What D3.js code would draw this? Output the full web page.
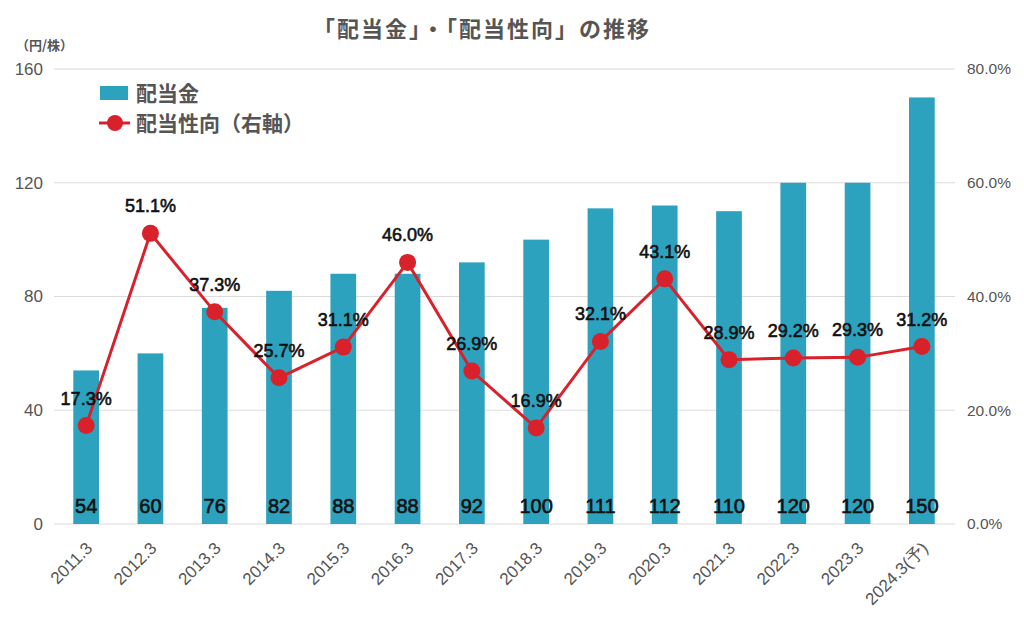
<!DOCTYPE html>
<html><head><meta charset="utf-8">
<script src="https://cdn.jsdelivr.net/npm/d3@7"></script>
<style>
body{margin:0;background:#fff;}
svg{display:block;}
</style></head>
<body>
<svg id="chart" width="1024" height="630"></svg>
<script>
const categories = ["2011.3","2012.3","2013.3","2014.3","2015.3","2016.3","2017.3","2018.3","2019.3","2020.3","2021.3","2022.3","2023.3","2024.3(予)"];
const dividends = [54,60,76,82,88,88,92,100,111,112,110,120,120,150];
const payoutRatio = [17.3,51.1,37.3,25.7,31.1,46.0,26.9,16.9,32.1,43.1,28.9,29.2,29.3,31.2];
const leftTicks = [0,40,80,120,160];
const rightTicks = [0,20,40,60,80];

const svg = d3.select("#chart");
const jp = "'Noto Sans CJK JP','Noto Sans',sans-serif";
const num = "'Liberation Sans',Arial,sans-serif";
const gray = "#555";
const barColor = "#2ca2bf";
const lineColor = "#d9212b";

const x = d3.scaleBand().domain(categories).range([54,954]).paddingInner(0.6).paddingOuter(0.3);
const yL = d3.scaleLinear().domain([0,160]).range([524,69]);
const yR = d3.scaleLinear().domain([0,80]).range([524,69]);

// gridlines
svg.append("g").selectAll("line").data(leftTicks).join("line")
  .attr("x1",54).attr("x2",955)
  .attr("y1",d=>yL(d)).attr("y2",d=>yL(d))
  .attr("stroke","#dcdcdc").attr("stroke-width",1.2);

// left axis
const gl = svg.append("g").attr("transform","translate(54,0)")
  .call(d3.axisLeft(yL).tickValues(leftTicks).tickSize(0).tickPadding(11));
gl.select(".domain").remove();
gl.selectAll("text").attr("font-family",num).attr("font-size",17).attr("fill",gray);

// right axis
const gr = svg.append("g").attr("transform","translate(955,0)")
  .call(d3.axisRight(yR).tickValues(rightTicks).tickSize(0).tickPadding(12).tickFormat(d=>d.toFixed(1)+"%"));
gr.select(".domain").remove();
gr.selectAll("text").attr("font-family",num).attr("font-size",15.5).attr("fill",gray);

// x axis
const gx = svg.append("g").attr("transform","translate(0,524)")
  .call(d3.axisBottom(x).tickSize(0).tickPadding(0));
gx.select(".domain").remove();
gx.selectAll("text")
  .attr("font-family",num).attr("font-size",17).attr("fill",gray)
  .attr("text-anchor","end")
  .attr("transform","translate(3,21) rotate(-45)")
  .attr("dy","0.35em");

// bars
svg.append("g").selectAll("rect").data(dividends).join("rect")
  .attr("x",(d,i)=>x(categories[i]))
  .attr("width",x.bandwidth())
  .attr("y",d=>yL(d))
  .attr("height",d=>yL(0)-yL(d))
  .attr("fill",barColor);

// bar value labels
svg.append("g").selectAll("text").data(dividends).join("text")
  .attr("x",(d,i)=>x(categories[i])+x.bandwidth()/2)
  .attr("y",513)
  .attr("text-anchor","middle")
  .attr("font-family",num).attr("font-size",20)
  .attr("fill","#111").attr("stroke","#111").attr("stroke-width",0.6)
  .text(d=>d);

// line
const line = d3.line().x((d,i)=>x(categories[i])+x.bandwidth()/2).y(d=>yR(d));
svg.append("path").datum(payoutRatio).attr("d",line)
  .attr("fill","none").attr("stroke",lineColor).attr("stroke-width",3);
svg.append("g").selectAll("circle").data(payoutRatio).join("circle")
  .attr("cx",(d,i)=>x(categories[i])+x.bandwidth()/2)
  .attr("cy",d=>yR(d))
  .attr("r",8.5)
  .attr("fill",lineColor);

// line labels
svg.append("g").selectAll("text").data(payoutRatio).join("text")
  .attr("x",(d,i)=>x(categories[i])+x.bandwidth()/2)
  .attr("y",d=>yR(d)-21)
  .attr("text-anchor","middle")
  .attr("font-family",num).attr("font-size",18)
  .attr("fill","#111").attr("stroke","#111").attr("stroke-width",0.6)
  .text(d=>d.toFixed(1)+"%");

// title
svg.append("text").attr("x",482).attr("y",37).attr("text-anchor","middle")
  .attr("font-family",jp).attr("font-size",22).attr("font-weight","bold").attr("fill",gray)
  .attr("letter-spacing",2)
  .text("「配当金」・「配当性向」の推移");

// unit
svg.append("text").attr("x",16).attr("y",50)
  .attr("font-family",jp).attr("font-size",13).attr("font-weight","bold").attr("fill",gray)
  .text("（円/株）");

// legend
const lg = svg.append("g");
lg.append("rect").attr("x",100).attr("y",86).attr("width",28).attr("height",14).attr("fill",barColor);
lg.append("text").attr("x",136).attr("y",101)
  .attr("font-family",jp).attr("font-size",21).attr("font-weight","bold").attr("fill",gray).text("配当金");
lg.append("line").attr("x1",99).attr("x2",130).attr("y1",123).attr("y2",123)
  .attr("stroke",lineColor).attr("stroke-width",3);
lg.append("circle").attr("cx",115).attr("cy",123).attr("r",8).attr("fill",lineColor);
lg.append("text").attr("x",136).attr("y",131)
  .attr("font-family",jp).attr("font-size",21).attr("font-weight","bold").attr("fill",gray).text("配当性向（右軸）");
</script>
</body></html>
